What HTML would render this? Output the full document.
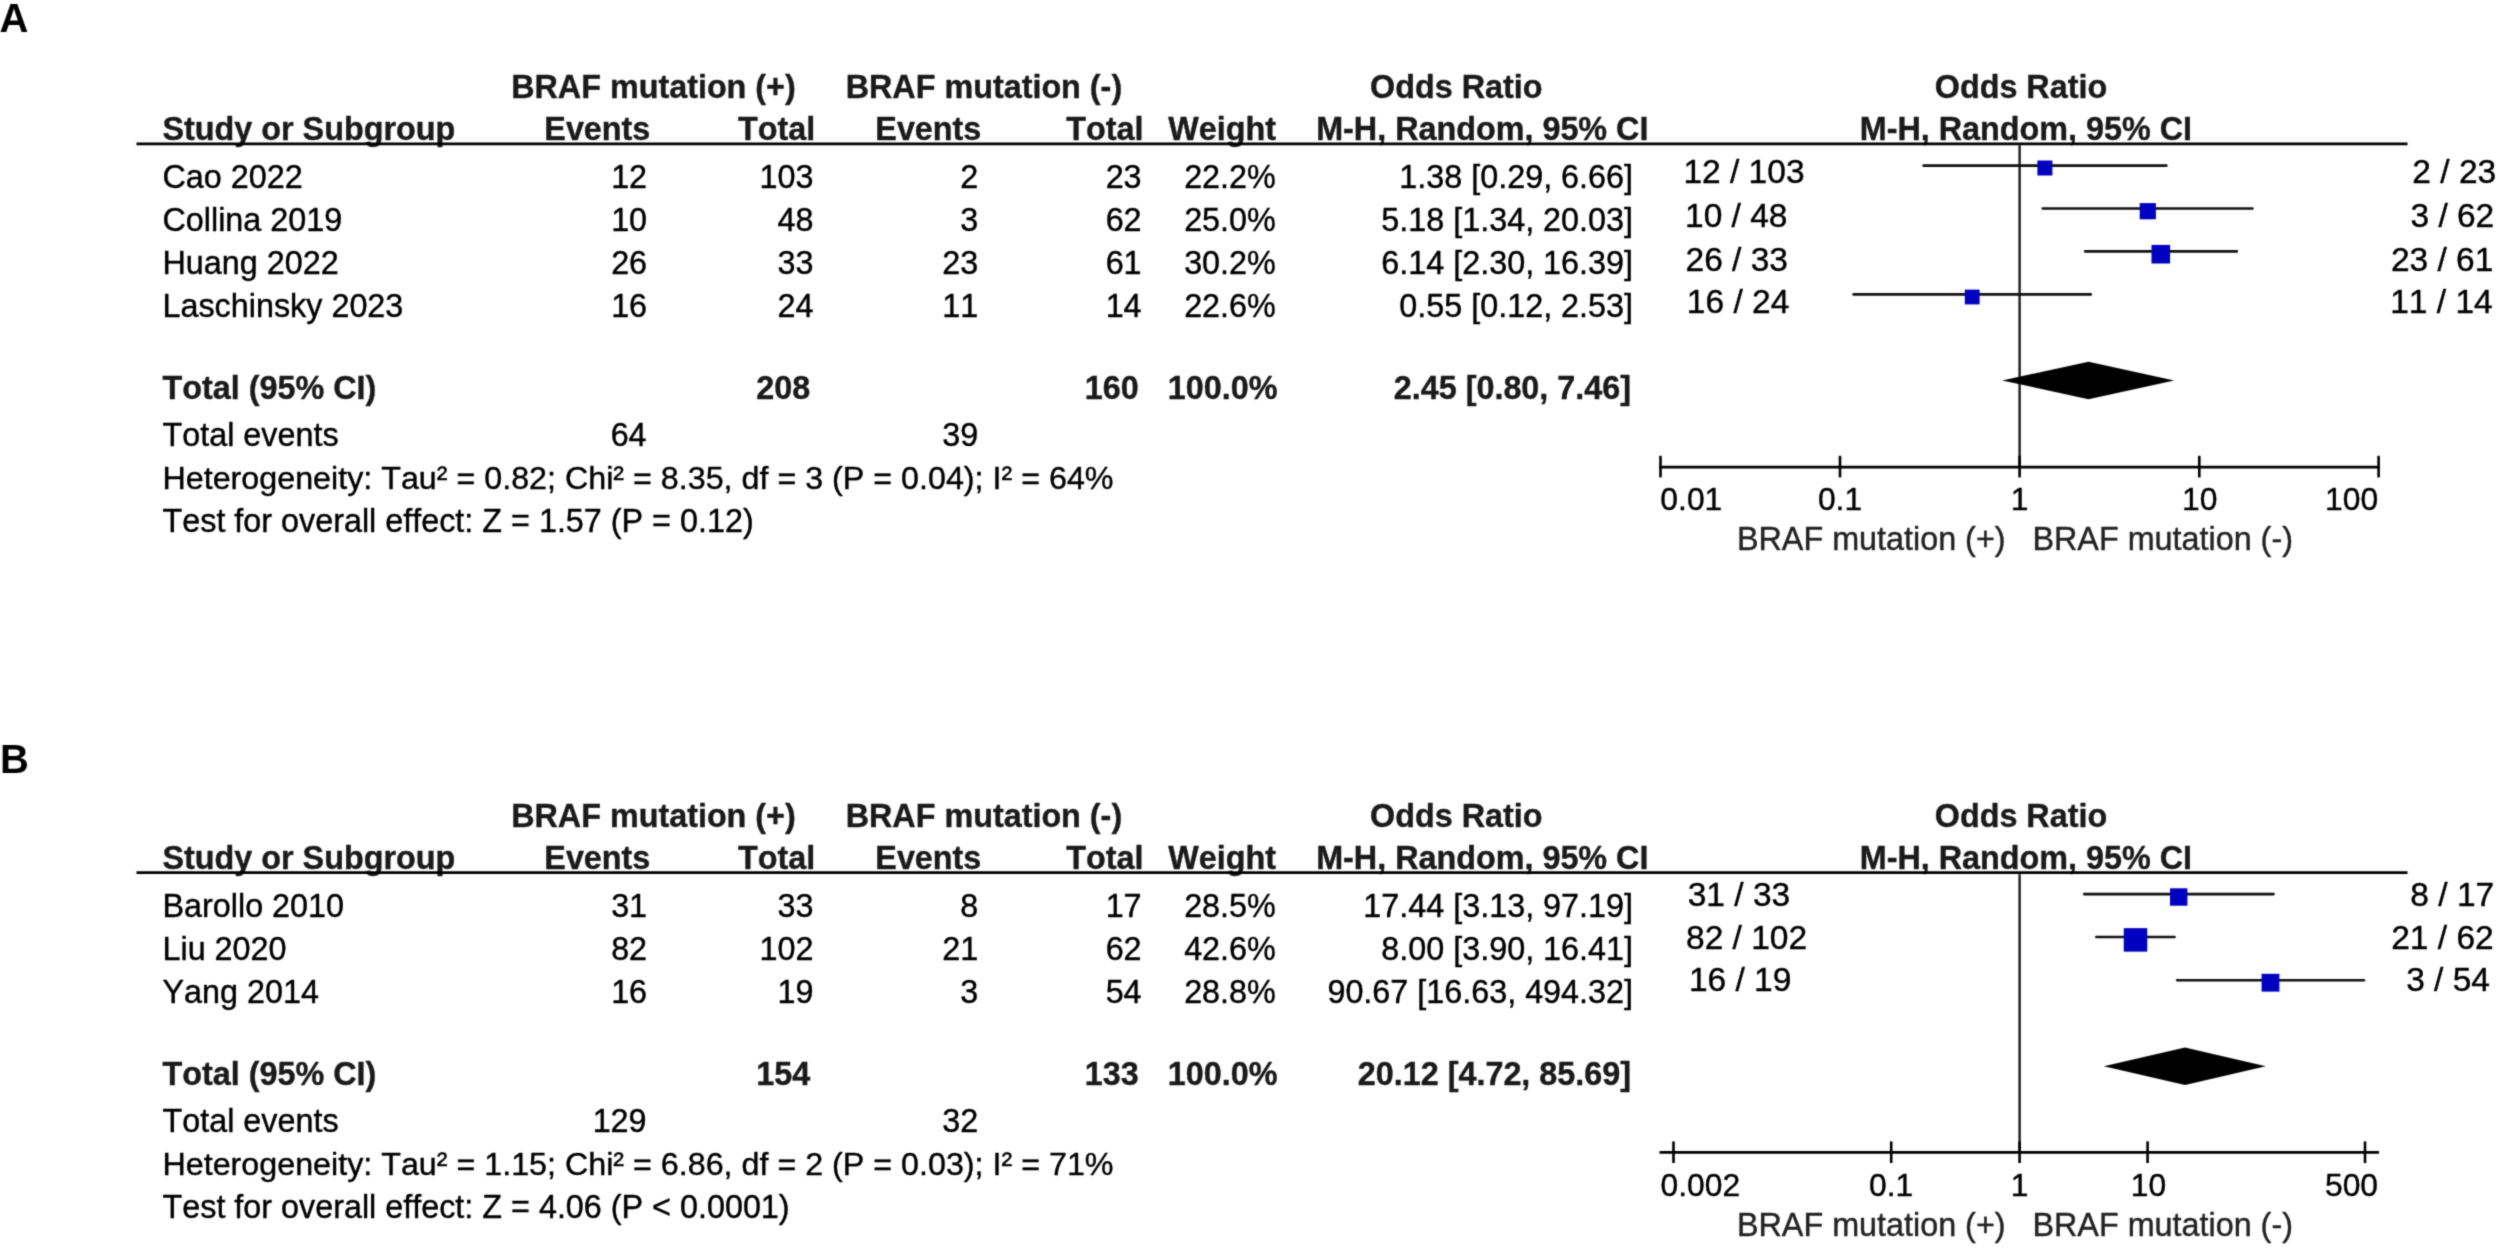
<!DOCTYPE html>
<html lang="en">
<head>
<meta charset="utf-8">
<title>Forest plots: BRAF mutation (+) vs BRAF mutation (-)</title>
<style>
html,body{margin:0;padding:0;background:#fff;}
body{width:2500px;height:1250px;overflow:hidden;}
svg{display:block;}
text{font-family:"Liberation Sans",Arial,Helvetica,sans-serif;font-size:32.35px;color:#000;font-kerning:none;font-feature-settings:"kern" 0;}
text.b{font-weight:bold;}
text{fill:currentColor;stroke:currentColor;stroke-width:0.4px;stroke-linejoin:round;}
</style>
</head>
<body>
<svg width="2500" height="1250" viewBox="0 0 2500 1250">
<defs><filter id="soft" x="0" y="0" width="2500" height="1250" filterUnits="userSpaceOnUse" color-interpolation-filters="sRGB"><feConvolveMatrix order="3" kernelMatrix="0.0622 0.2494 0.0622 0.2494 1 0.2494 0.0622 0.2494 0.0622" divisor="2.2461" edgeMode="duplicate"/></filter></defs>
<g filter="url(#soft)">
<rect x="0" y="0" width="2500" height="1250" fill="#fff"/>
<text class="b" x="-0.60" y="31.80" style="font-size:40px;stroke-width:0;">A</text>
<text class="b" x="511.14" y="98.20" style="color:#1a1a1a;">BRAF mutation (+)</text>
<text class="b" x="845.64" y="98.20" style="color:#1a1a1a;">BRAF mutation (-)</text>
<text class="b" x="1370.07" y="98.20" style="color:#1a1a1a;">Odds Ratio</text>
<text class="b" x="1934.77" y="98.20" style="color:#1a1a1a;">Odds Ratio</text>
<text class="b" x="162.50" y="140.20" style="color:#1a1a1a;">Study or Subgroup</text>
<text class="b" x="650.33" y="140.20" text-anchor="end" style="color:#1a1a1a;">Events</text>
<text class="b" x="815.29" y="140.20" text-anchor="end" style="color:#1a1a1a;">Total</text>
<text class="b" x="981.33" y="140.20" text-anchor="end" style="color:#1a1a1a;">Events</text>
<text class="b" x="1143.59" y="140.20" text-anchor="end" style="color:#1a1a1a;">Total</text>
<text class="b" x="1275.99" y="140.20" text-anchor="end" style="color:#1a1a1a;">Weight</text>
<text class="b" x="1316.14" y="140.20" style="color:#1a1a1a;">M-H, Random, 95% CI</text>
<text class="b" x="1859.74" y="140.20" style="color:#1a1a1a;">M-H, Random, 95% CI</text>
<line x1="136.50" y1="143.90" x2="2407.50" y2="143.90" stroke="#000" stroke-width="2.8" stroke-linecap="butt"/>
<text class="r" x="162.50" y="188.10">Cao 2022</text>
<text class="r" x="647.10" y="188.10" text-anchor="end">12</text>
<text class="r" x="813.40" y="188.10" text-anchor="end">103</text>
<text class="r" x="978.20" y="188.10" text-anchor="end">2</text>
<text class="r" x="1141.60" y="188.10" text-anchor="end">23</text>
<text class="r" x="1275.80" y="188.10" text-anchor="end">22.2%</text>
<text class="r" x="1633.00" y="188.10" text-anchor="end">1.38 [0.29, 6.66]</text>
<text class="r" x="162.50" y="231.10">Collina 2019</text>
<text class="r" x="647.10" y="231.10" text-anchor="end">10</text>
<text class="r" x="813.40" y="231.10" text-anchor="end">48</text>
<text class="r" x="978.20" y="231.10" text-anchor="end">3</text>
<text class="r" x="1141.60" y="231.10" text-anchor="end">62</text>
<text class="r" x="1275.80" y="231.10" text-anchor="end">25.0%</text>
<text class="r" x="1633.00" y="231.10" text-anchor="end">5.18 [1.34, 20.03]</text>
<text class="r" x="162.50" y="274.10">Huang 2022</text>
<text class="r" x="647.10" y="274.10" text-anchor="end">26</text>
<text class="r" x="813.40" y="274.10" text-anchor="end">33</text>
<text class="r" x="978.20" y="274.10" text-anchor="end">23</text>
<text class="r" x="1141.60" y="274.10" text-anchor="end">61</text>
<text class="r" x="1275.80" y="274.10" text-anchor="end">30.2%</text>
<text class="r" x="1633.00" y="274.10" text-anchor="end">6.14 [2.30, 16.39]</text>
<text class="r" x="162.50" y="317.10">Laschinsky 2023</text>
<text class="r" x="647.10" y="317.10" text-anchor="end">16</text>
<text class="r" x="813.40" y="317.10" text-anchor="end">24</text>
<text class="r" x="978.20" y="317.10" text-anchor="end">11</text>
<text class="r" x="1141.60" y="317.10" text-anchor="end">14</text>
<text class="r" x="1275.80" y="317.10" text-anchor="end">22.6%</text>
<text class="r" x="1633.00" y="317.10" text-anchor="end">0.55 [0.12, 2.53]</text>
<text class="b" x="162.50" y="399.00" style="color:#1a1a1a;">Total (95% CI)</text>
<text class="b" x="810.30" y="399.00" text-anchor="end" style="color:#1a1a1a;">208</text>
<text class="b" x="1138.80" y="399.00" text-anchor="end" style="color:#1a1a1a;">160</text>
<text class="b" x="1277.40" y="399.00" text-anchor="end" style="color:#1a1a1a;">100.0%</text>
<text class="b" x="1631.00" y="399.00" text-anchor="end" style="color:#1a1a1a;">2.45 [0.80, 7.46]</text>
<text class="r" x="162.50" y="446.00">Total events</text>
<text class="r" x="646.60" y="446.00" text-anchor="end">64</text>
<text class="r" x="978.30" y="446.00" text-anchor="end">39</text>
<text class="r" x="162.50" y="489.00" style="font-size:32.26px;">Heterogeneity: Tau² = 0.82; Chi² = 8.35, df = 3 (P = 0.04); I² = 64%</text>
<text class="r" x="162.50" y="532.30">Test for overall effect: Z = 1.57 (P = 0.12)</text>
<line x1="2019.60" y1="145.30" x2="2019.60" y2="467.10" stroke="#1a1a1a" stroke-width="2.4" stroke-linecap="butt"/>
<line x1="1923.60" y1="165.60" x2="2166.40" y2="165.60" stroke="#111" stroke-width="2.6" stroke-linecap="round"/>
<line x1="2042.80" y1="208.50" x2="2252.40" y2="208.50" stroke="#111" stroke-width="2.6" stroke-linecap="round"/>
<line x1="2085.20" y1="251.40" x2="2236.80" y2="251.40" stroke="#111" stroke-width="2.6" stroke-linecap="round"/>
<line x1="1853.60" y1="294.40" x2="2090.80" y2="294.40" stroke="#111" stroke-width="2.6" stroke-linecap="round"/>
<rect x="2037.40" y="160.50" width="15.00" height="15.00" fill="#0000c0"/>
<rect x="2139.70" y="203.10" width="16.20" height="16.20" fill="#0000c0"/>
<rect x="2151.50" y="244.90" width="18.60" height="18.60" fill="#0000c0"/>
<rect x="1964.80" y="289.60" width="14.80" height="14.80" fill="#0000c0"/>
<polygon points="2002.20,380.40 2088.50,361.80 2174.20,380.40 2088.50,399.20" fill="#000"/>
<line x1="1659.20" y1="467.10" x2="2379.90" y2="467.10" stroke="#000" stroke-width="2.8" stroke-linecap="butt"/>
<line x1="1660.50" y1="455.80" x2="1660.50" y2="477.40" stroke="#000" stroke-width="2.6" stroke-linecap="butt"/>
<line x1="1840.00" y1="455.80" x2="1840.00" y2="477.40" stroke="#000" stroke-width="2.6" stroke-linecap="butt"/>
<line x1="2019.60" y1="455.80" x2="2019.60" y2="477.40" stroke="#000" stroke-width="2.6" stroke-linecap="butt"/>
<line x1="2199.30" y1="455.80" x2="2199.30" y2="477.40" stroke="#000" stroke-width="2.6" stroke-linecap="butt"/>
<line x1="2378.60" y1="455.80" x2="2378.60" y2="477.40" stroke="#000" stroke-width="2.6" stroke-linecap="butt"/>
<text class="r" x="1660.36" y="510.30" style="font-size:31.8px;">0.01</text>
<text class="r" x="1840.00" y="510.30" text-anchor="middle" style="font-size:31.8px;">0.1</text>
<text class="r" x="2019.60" y="510.30" text-anchor="middle" style="font-size:31.8px;">1</text>
<text class="r" x="2199.80" y="510.30" text-anchor="middle" style="font-size:31.8px;">10</text>
<text class="r" x="2378.14" y="510.30" text-anchor="end" style="font-size:31.8px;">100</text>
<text class="r" x="1736.95" y="549.60" style="color:#222;">BRAF mutation (+)</text>
<text class="r" x="2032.45" y="549.60" style="color:#222;">BRAF mutation (-)</text>
<text class="r" x="1683.45" y="182.80" style="font-size:33.5px;">12 / 103</text>
<text class="r" x="1685.05" y="226.90" style="font-size:33.5px;">10 / 48</text>
<text class="r" x="1685.52" y="270.60" style="font-size:33.5px;">26 / 33</text>
<text class="r" x="1686.85" y="313.30" style="font-size:33.5px;">16 / 24</text>
<text class="r" x="2496.17" y="182.80" text-anchor="end" style="font-size:33.5px;">2 / 23</text>
<text class="r" x="2494.28" y="226.90" text-anchor="end" style="font-size:33.5px;">3 / 62</text>
<text class="r" x="2493.34" y="270.60" text-anchor="end" style="font-size:33.5px;">23 / 61</text>
<text class="r" x="2492.68" y="313.30" text-anchor="end" style="font-size:33.5px;">11 / 14</text>
<text class="b" x="0.00" y="773.40" style="font-size:40px;stroke-width:0;">B</text>
<text class="b" x="511.14" y="827.00" style="color:#1a1a1a;">BRAF mutation (+)</text>
<text class="b" x="845.64" y="827.00" style="color:#1a1a1a;">BRAF mutation (-)</text>
<text class="b" x="1370.07" y="827.00" style="color:#1a1a1a;">Odds Ratio</text>
<text class="b" x="1934.77" y="827.00" style="color:#1a1a1a;">Odds Ratio</text>
<text class="b" x="162.50" y="869.00" style="color:#1a1a1a;">Study or Subgroup</text>
<text class="b" x="650.33" y="869.00" text-anchor="end" style="color:#1a1a1a;">Events</text>
<text class="b" x="815.29" y="869.00" text-anchor="end" style="color:#1a1a1a;">Total</text>
<text class="b" x="981.33" y="869.00" text-anchor="end" style="color:#1a1a1a;">Events</text>
<text class="b" x="1143.59" y="869.00" text-anchor="end" style="color:#1a1a1a;">Total</text>
<text class="b" x="1275.99" y="869.00" text-anchor="end" style="color:#1a1a1a;">Weight</text>
<text class="b" x="1316.14" y="869.00" style="color:#1a1a1a;">M-H, Random, 95% CI</text>
<text class="b" x="1859.74" y="869.00" style="color:#1a1a1a;">M-H, Random, 95% CI</text>
<line x1="136.50" y1="872.70" x2="2407.50" y2="872.70" stroke="#000" stroke-width="2.8" stroke-linecap="butt"/>
<text class="r" x="162.50" y="916.90">Barollo 2010</text>
<text class="r" x="647.10" y="916.90" text-anchor="end">31</text>
<text class="r" x="813.40" y="916.90" text-anchor="end">33</text>
<text class="r" x="978.20" y="916.90" text-anchor="end">8</text>
<text class="r" x="1141.60" y="916.90" text-anchor="end">17</text>
<text class="r" x="1275.80" y="916.90" text-anchor="end">28.5%</text>
<text class="r" x="1633.00" y="916.90" text-anchor="end">17.44 [3.13, 97.19]</text>
<text class="r" x="162.50" y="959.90">Liu 2020</text>
<text class="r" x="647.10" y="959.90" text-anchor="end">82</text>
<text class="r" x="813.40" y="959.90" text-anchor="end">102</text>
<text class="r" x="978.20" y="959.90" text-anchor="end">21</text>
<text class="r" x="1141.60" y="959.90" text-anchor="end">62</text>
<text class="r" x="1275.80" y="959.90" text-anchor="end">42.6%</text>
<text class="r" x="1633.00" y="959.90" text-anchor="end">8.00 [3.90, 16.41]</text>
<text class="r" x="162.50" y="1002.90">Yang 2014</text>
<text class="r" x="647.10" y="1002.90" text-anchor="end">16</text>
<text class="r" x="813.40" y="1002.90" text-anchor="end">19</text>
<text class="r" x="978.20" y="1002.90" text-anchor="end">3</text>
<text class="r" x="1141.60" y="1002.90" text-anchor="end">54</text>
<text class="r" x="1275.80" y="1002.90" text-anchor="end">28.8%</text>
<text class="r" x="1633.00" y="1002.90" text-anchor="end">90.67 [16.63, 494.32]</text>
<text class="b" x="162.50" y="1084.80" style="color:#1a1a1a;">Total (95% CI)</text>
<text class="b" x="810.30" y="1084.80" text-anchor="end" style="color:#1a1a1a;">154</text>
<text class="b" x="1138.80" y="1084.80" text-anchor="end" style="color:#1a1a1a;">133</text>
<text class="b" x="1277.40" y="1084.80" text-anchor="end" style="color:#1a1a1a;">100.0%</text>
<text class="b" x="1631.00" y="1084.80" text-anchor="end" style="color:#1a1a1a;">20.12 [4.72, 85.69]</text>
<text class="r" x="162.50" y="1131.80">Total events</text>
<text class="r" x="646.60" y="1131.80" text-anchor="end">129</text>
<text class="r" x="978.30" y="1131.80" text-anchor="end">32</text>
<text class="r" x="162.50" y="1174.80" style="font-size:32.26px;">Heterogeneity: Tau² = 1.15; Chi² = 6.86, df = 2 (P = 0.03); I² = 71%</text>
<text class="r" x="162.50" y="1218.10">Test for overall effect: Z = 4.06 (P &lt; 0.0001)</text>
<line x1="2019.60" y1="874.30" x2="2019.60" y2="1152.30" stroke="#1a1a1a" stroke-width="2.4" stroke-linecap="butt"/>
<line x1="2084.20" y1="894.10" x2="2273.60" y2="894.10" stroke="#111" stroke-width="2.6" stroke-linecap="round"/>
<line x1="2096.30" y1="937.00" x2="2174.50" y2="937.00" stroke="#111" stroke-width="2.6" stroke-linecap="round"/>
<line x1="2177.20" y1="980.20" x2="2363.90" y2="980.20" stroke="#111" stroke-width="2.6" stroke-linecap="round"/>
<rect x="2170.00" y="888.30" width="17.40" height="17.40" fill="#0000c0"/>
<rect x="2123.75" y="928.15" width="23.50" height="23.50" fill="#0000c0"/>
<rect x="2261.60" y="973.80" width="17.80" height="17.80" fill="#0000c0"/>
<polygon points="2103.80,1066.20 2185.00,1047.40 2265.80,1066.20 2185.00,1085.00" fill="#000"/>
<line x1="1659.50" y1="1152.30" x2="2379.00" y2="1152.30" stroke="#000" stroke-width="2.8" stroke-linecap="butt"/>
<line x1="1673.50" y1="1141.40" x2="1673.50" y2="1163.00" stroke="#000" stroke-width="2.6" stroke-linecap="butt"/>
<line x1="1891.20" y1="1141.40" x2="1891.20" y2="1163.00" stroke="#000" stroke-width="2.6" stroke-linecap="butt"/>
<line x1="2019.60" y1="1141.40" x2="2019.60" y2="1163.00" stroke="#000" stroke-width="2.6" stroke-linecap="butt"/>
<line x1="2147.60" y1="1141.40" x2="2147.60" y2="1163.00" stroke="#000" stroke-width="2.6" stroke-linecap="butt"/>
<line x1="2365.00" y1="1141.40" x2="2365.00" y2="1163.00" stroke="#000" stroke-width="2.6" stroke-linecap="butt"/>
<text class="r" x="1660.56" y="1196.20" style="font-size:31.8px;">0.002</text>
<text class="r" x="1891.20" y="1196.20" text-anchor="middle" style="font-size:31.8px;">0.1</text>
<text class="r" x="2019.60" y="1196.20" text-anchor="middle" style="font-size:31.8px;">1</text>
<text class="r" x="2148.40" y="1196.20" text-anchor="middle" style="font-size:31.8px;">10</text>
<text class="r" x="2378.04" y="1196.20" text-anchor="end" style="font-size:31.8px;">500</text>
<text class="r" x="1736.95" y="1235.60" style="color:#222;">BRAF mutation (+)</text>
<text class="r" x="2032.45" y="1235.60" style="color:#222;">BRAF mutation (-)</text>
<text class="r" x="1687.72" y="905.70" style="font-size:33.5px;">31 / 33</text>
<text class="r" x="1686.04" y="948.70" style="font-size:33.5px;">82 / 102</text>
<text class="r" x="1688.95" y="990.70" style="font-size:33.5px;">16 / 19</text>
<text class="r" x="2494.18" y="905.70" text-anchor="end" style="font-size:33.5px;">8 / 17</text>
<text class="r" x="2493.68" y="948.70" text-anchor="end" style="font-size:33.5px;">21 / 62</text>
<text class="r" x="2489.98" y="990.70" text-anchor="end" style="font-size:33.5px;">3 / 54</text>
</g>
</svg>
</body>
</html>
